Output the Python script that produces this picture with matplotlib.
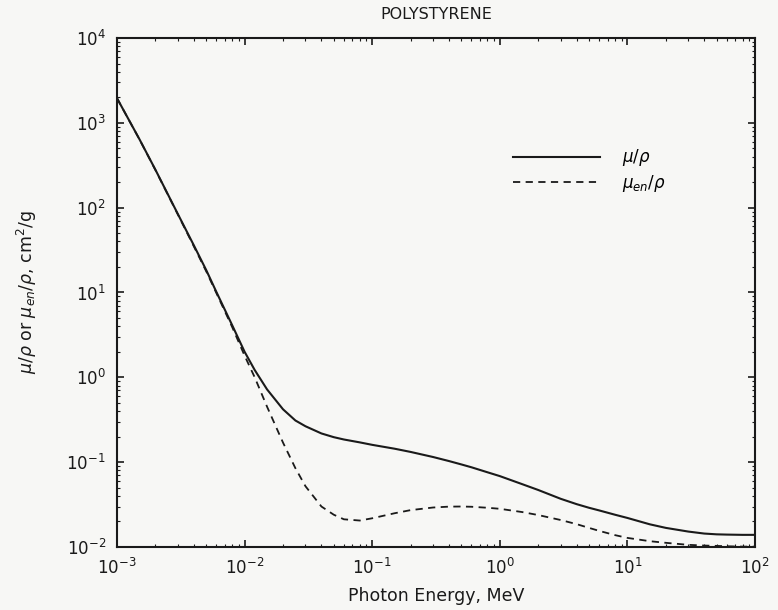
import matplotlib
matplotlib.use("Agg")
import matplotlib.pyplot as plt

# photon energy, MeV
energy = [1e-3, 1.5e-3, 2e-3, 3e-3, 4e-3, 5e-3, 6e-3, 8e-3, 1e-2, 1.2e-2,
          1.5e-2, 2e-2, 2.5e-2, 3e-2, 4e-2, 5e-2, 6e-2, 8e-2, 0.1, 0.15,
          0.2, 0.3, 0.4, 0.5, 0.6, 0.8, 1.0, 1.5, 2.0, 3.0,
          4.0, 5.0, 6.0, 8.0, 10.0, 15.0, 20.0, 30.0, 40.0, 50.0,
          60.0, 80.0, 100.0]

# mass attenuation coefficient mu/rho, cm2/g
mu_rho = [1950, 640, 280, 84, 36, 18.4, 10.2, 4.1, 2.0, 1.22,
          0.72, 0.42, 0.31, 0.265, 0.218, 0.197, 0.185, 0.171, 0.160, 0.144,
          0.132, 0.115, 0.103, 0.094, 0.087, 0.076, 0.0685, 0.055, 0.047, 0.037,
          0.032, 0.029, 0.027, 0.024, 0.022, 0.0185, 0.0168, 0.0152, 0.0144, 0.0141,
          0.0140, 0.0139, 0.0139]

# mass energy-absorption coefficient mu_en/rho, cm2/g
mu_en_rho = [1950, 638, 278, 83, 35, 17.8, 9.9, 3.9, 1.8, 1.0,
             0.45, 0.17, 0.085, 0.052, 0.030, 0.024, 0.0212, 0.0205, 0.0218, 0.025,
             0.0272, 0.0292, 0.0299, 0.0300, 0.0298, 0.029, 0.0282, 0.0258, 0.0238, 0.0208,
             0.0186, 0.0168, 0.0155, 0.0138, 0.0128, 0.0117, 0.0112, 0.0106, 0.0104, 0.0103,
             0.0102, 0.0101, 0.0101]

ink = "#1a1a1a"
paper = "#f7f7f5"

fig = plt.figure(figsize=(7.78, 6.10), dpi=100, facecolor=paper)
ax = fig.add_axes([0.1504, 0.1033, 0.82, 0.8344], facecolor=paper)

ax.loglog(energy, mu_rho, color=ink, lw=1.5, label=r"$\mu/\rho$")
ax.loglog(energy, mu_en_rho, color=ink, lw=1.3, dashes=(4, 3), label=r"$\mu_{en}/\rho$")

ax.set_xlim(1e-3, 1e2)
ax.set_ylim(1e-2, 1e4)

for s in ax.spines.values():
    s.set_linewidth(1.5)
    s.set_color(ink)

ax.tick_params(which="both", direction="in", top=True, right=True, colors=ink)
ax.tick_params(which="major", length=5, width=1.2, labelsize=12, pad=8)
ax.tick_params(which="minor", length=2.5, width=0.8)

ax.set_title("POLYSTYRENE", fontsize=11.5, pad=14, color=ink)
ax.set_xlabel("Photon Energy, MeV", fontsize=12.5, labelpad=6, color=ink)
ax.set_ylabel(r"$\mu/\rho$ or $\mu_{en}/\rho$, cm$^2$/g", fontsize=12.5, labelpad=20, color=ink)

ax.legend(loc="upper left", bbox_to_anchor=(0.621, 0.785), frameon=False,
          fontsize=12, handlelength=5.2, handletextpad=1.3,
          labelspacing=0.25, borderpad=0, borderaxespad=0)

fig.savefig("out.png", dpi=100, facecolor=paper)
